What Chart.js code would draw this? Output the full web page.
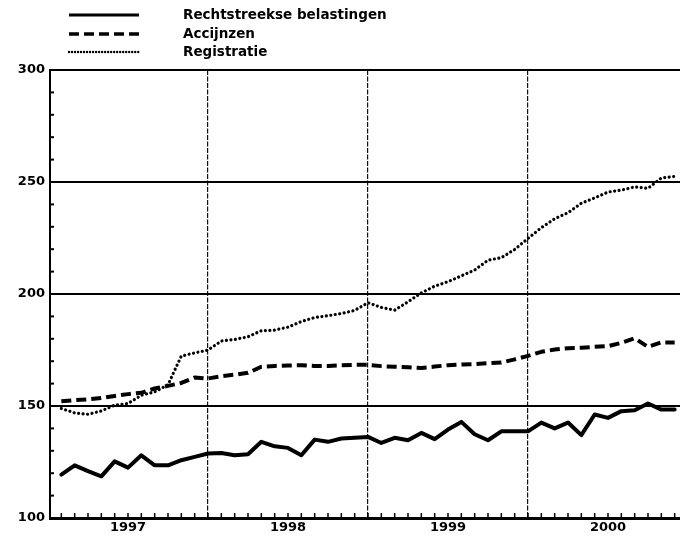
<!DOCTYPE html>
<html><head><meta charset="utf-8">
<script src="https://cdn.jsdelivr.net/npm/chart.js@4/dist/chart.umd.min.js"></script>
<style>html,body{margin:0;padding:0;background:#fff;} #wrap{width:680px;height:537px;position:relative;overflow:hidden}</style>
</head><body><div id="wrap"><canvas id="c" width="680" height="537"></canvas></div>
<script>
// month index since start of 1997 (12 = start of 1998, ...)
const monthIndex = [1,2,3,4,5,6,7,8,9,10,11,12,13,14,15,16,17,18,19,20,21,22,23,24,25,26,27,28,29,30,31,32,33,34,35,36,37,38,39,40,41,42,43,44,45,46,47];
const seriesNames = ['Rechtstreekse belastingen','Accijnzen','Registratie'];
const rechtstreekse = [119.4,123.5,120.9,118.6,125.3,122.5,128,123.5,123.5,125.8,127.3,128.8,129,128,128.5,134,132,131.3,128,135,134,135.5,135.8,136.2,133.5,135.8,134.7,138,135.2,139.5,142.9,137.4,134.7,138.7,138.7,138.7,142.6,140,142.6,137,146.2,144.7,147.7,148.1,151.1,148.4,148.4];
const accijnzen = [152.1,152.6,153,153.6,154.5,155.3,155.9,157.8,159,160.3,162.7,162.3,163.3,164,164.8,167.5,167.9,168.1,168.2,167.9,167.9,168.2,168.4,168.4,167.8,167.5,167.3,167,167.6,168.2,168.5,168.7,169.1,169.4,170.8,172.4,174.2,175.2,175.8,176,176.4,176.7,178.2,180.2,176.4,178.4,178.4];
const registratie = [148.9,146.9,146.3,147.8,150.4,151.1,154.8,156.3,159.5,172.3,173.7,175,179,179.7,180.9,183.6,183.9,185.2,187.7,189.5,190.3,191.3,192.7,196.1,194,192.8,196.5,200.5,203.5,205.5,208.1,210.7,215.1,216.2,219.9,224.8,229.6,233.6,236.3,240.5,242.9,245.5,246.4,247.8,247.2,251.8,252.5];
const yearLabels = ['1997','1998','1999','2000'];
const yearLabelPos = [6,18,30,42];
const yearBoundaries = [12,24,36];
const yTickLabels = [100,150,200,250,300];

const FONT = '"DejaVu Sans", sans-serif';
const toPts = arr => monthIndex.map((m,k)=>({x:m,y:arr[k]}));

const legendPlugin = {
  id:'customLegend',
  afterDraw(chart){
    const ctx = chart.ctx;
    const rows = [15,34,52];
    chart.data.datasets.forEach((ds,k)=>{
      const y = rows[k];
      ctx.save();
      ctx.strokeStyle = '#000';
      ctx.lineWidth = k===0 ? 3 : (k===1 ? 3.5 : 2.4);
      ctx.lineCap = k===2 ? 'round' : 'butt';
      ctx.setLineDash(k===0 ? [] : (k===1 ? [10,5] : [0.01,3]));
      ctx.beginPath(); ctx.moveTo(69,y); ctx.lineTo(139,y); ctx.stroke();
      ctx.setLineDash([]);
      ctx.fillStyle = '#000';
      ctx.font = 'bold 13.5px ' + FONT;
      ctx.textBaseline = 'middle';
      ctx.textAlign = 'left';
      ctx.fillText(ds.label, 183, y);
      ctx.restore();
    });
  }
};

const minorTicks = {
  id:'minorTicks',
  afterDraw(chart){
    const ctx = chart.ctx, xs = chart.scales.x, ys = chart.scales.y, a = chart.chartArea;
    ctx.save();
    ctx.strokeStyle = '#000';
    ctx.lineWidth = 2;
    for (let v=110; v<300; v+=10){
      if (v%50===0) continue;
      const py = ys.getPixelForValue(v);
      ctx.beginPath(); ctx.moveTo(a.left, py); ctx.lineTo(a.left+4, py); ctx.stroke();
    }
    ctx.lineWidth = 1.5;
    monthIndex.forEach(m=>{
      const px = xs.getPixelForValue(m);
      ctx.beginPath(); ctx.moveTo(px, a.bottom); ctx.lineTo(px, a.bottom-5); ctx.stroke();
    });
    ctx.restore();
  }
};

new Chart(document.getElementById('c'), {
  type:'line',
  data:{datasets:[
    {label:seriesNames[0], data:toPts(rechtstreekse), borderColor:'#000', borderWidth:4, pointRadius:0, tension:0, borderJoinStyle:'round', borderCapStyle:'round', fill:false},
    {label:seriesNames[1], data:toPts(accijnzen), borderColor:'#000', borderWidth:4, borderDash:[10,5], pointRadius:0, tension:0, borderJoinStyle:'round', borderCapStyle:'butt', fill:false},
    {label:seriesNames[2], data:toPts(registratie), borderColor:'#000', borderWidth:3.2, borderDash:[0.01,4.5], pointRadius:0, tension:0, borderJoinStyle:'round', borderCapStyle:'round', fill:false}
  ]},
  options:{
    responsive:false, animation:false, devicePixelRatio:1,
    layout:{padding:{top:70,left:0,right:0,bottom:0}},
    plugins:{legend:{display:false}, tooltip:{enabled:false}},
    scales:{
      x:{type:'linear', min:0.15, max:47.4,
        afterBuildTicks: s => { s.ticks = [6,12,18,24,30,36,42].map(v=>({value:v})); },
        afterFit: s => { s.height = 19; },
        ticks:{autoSkip:false, maxRotation:0, padding:2, color:'#000', font:{family:FONT, size:13, weight:'bold'},
          callback: v => { const i = yearLabelPos.indexOf(v); return i>=0 ? yearLabels[i] : ''; }},
        grid:{drawTicks:false, lineWidth:1.2, color: c => (c.tick && yearBoundaries.includes(c.tick.value)) ? '#111' : 'rgba(0,0,0,0)'},
        border:{display:true, color:'#000', width:3, dash:[5,1.5]}
      },
      y:{type:'linear', min:100, max:300,
        afterBuildTicks: s => { s.ticks = yTickLabels.map(v=>({value:v})); },
        afterFit: s => { s.width = 50; },
        ticks:{padding:5, color:'#000', font:{family:FONT, size:13, weight:'bold'}, callback: v => String(v)},
        grid:{drawTicks:false, lineWidth:2, color: c => (c.tick && c.tick.value>100) ? '#000' : 'rgba(0,0,0,0)'},
        border:{display:true, color:'#000', width:2}
      }
    }
  },
  plugins:[legendPlugin, minorTicks]
});
</script></body></html>
